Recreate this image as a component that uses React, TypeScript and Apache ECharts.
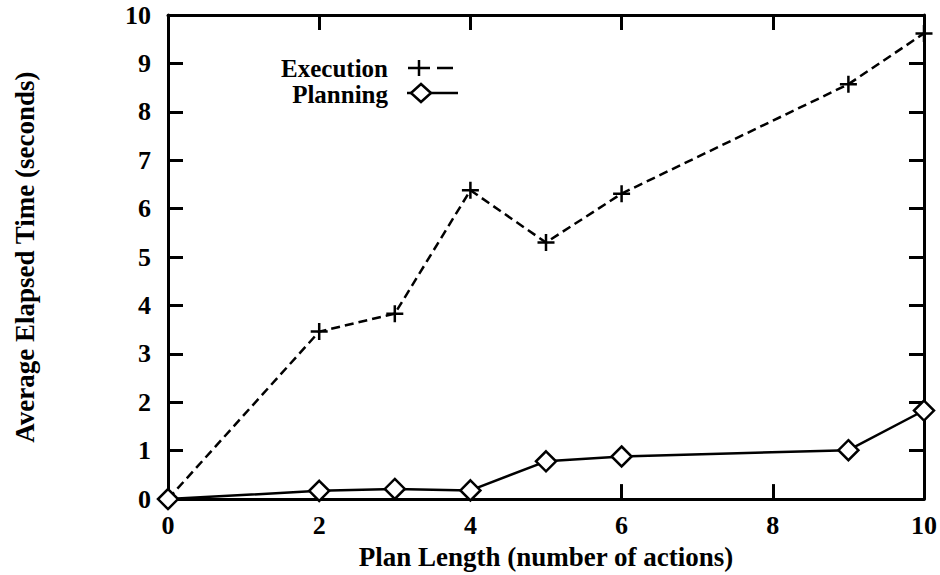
import React, { useEffect, useRef } from "react";
import * as echarts from "echarts";

const planLength = [0, 2, 3, 4, 5, 6, 9, 10];
const execution = [0, 3.46, 3.83, 6.38, 5.3, 6.31, 8.57, 9.62];
const planning = [0, 0.17, 0.21, 0.18, 0.78, 0.88, 1.01, 1.83];
const seriesNames = ["Execution", "Planning"];
const xTitle = "Plan Length (number of actions)";
const yTitle = "Average Elapsed Time (seconds)";

const FONT = "Liberation Serif";

export default function App() {
  const ref = useRef<HTMLDivElement>(null);
  useEffect(() => {
    if (!ref.current) return;
    const chart = echarts.init(ref.current, undefined, { renderer: "svg" });
    const labelStyle = {
      color: "#000",
      fontFamily: FONT,
      fontWeight: "bold" as const,
      fontSize: 26,
    };
    const axisLine = () => ({ show: true, onZero: false, lineStyle: { color: "#000", width: 3 } });
    const axisTick = () => ({ show: true, inside: true, length: 15, lineStyle: { color: "#000", width: 3 } });
    const plusPath = "path://M0,-8L0,8M-8,0L8,0";
    chart.setOption({
      animation: false,
      backgroundColor: "#fff",
      grid: { left: 168, right: 15, top: 15, bottom: 67 },
      xAxis: [
        {
          type: "value",
          min: 0,
          max: 10,
          interval: 2,
          position: "bottom",
          axisLine: axisLine(),
          axisTick: axisTick(),
          splitLine: { show: false },
          axisLabel: { ...labelStyle, margin: 13 },
          name: xTitle,
          nameLocation: "middle",
          nameGap: 28,
          nameTextStyle: { ...labelStyle, fontSize: 27 },
        },
        {
          type: "value",
          min: 0,
          max: 10,
          interval: 2,
          position: "top",
          axisLine: axisLine(),
          axisTick: axisTick(),
          splitLine: { show: false },
          axisLabel: { show: false },
        },
      ],
      yAxis: [
        {
          type: "value",
          min: 0,
          max: 10,
          interval: 1,
          position: "left",
          axisLine: axisLine(),
          axisTick: axisTick(),
          splitLine: { show: false },
          axisLabel: { ...labelStyle, margin: 17 },
          name: yTitle,
          nameLocation: "middle",
          nameGap: 130,
          nameTextStyle: { ...labelStyle, fontSize: 27 },
        },
        {
          type: "value",
          min: 0,
          max: 10,
          interval: 1,
          position: "right",
          axisLine: axisLine(),
          axisTick: axisTick(),
          splitLine: { show: false },
          axisLabel: { show: false },
        },
      ],
      series: [
        {
          name: seriesNames[0],
          type: "line",
          data: planLength.map((x, i) => [x, execution[i]]),
          clip: false,
          symbol: plusPath,
          symbolSize: 17,
          lineStyle: { color: "#000", width: 2.5, type: [9, 5] },
          itemStyle: { color: "transparent", borderColor: "#000", borderWidth: 2.5 },
          z: 5,
        },
        {
          name: seriesNames[1],
          type: "line",
          data: planLength.map((x, i) => [x, planning[i]]),
          clip: false,
          symbol: "diamond",
          symbolSize: [20, 20],
          lineStyle: { color: "#000", width: 2.5 },
          itemStyle: { color: "#fff", borderColor: "#000", borderWidth: 2.5 },
          z: 6,
        },
      ],
      graphic: [
        {
          type: "text",
          x: 388,
          y: 68,
          style: {
            text: seriesNames[0],
            align: "right",
            verticalAlign: "middle",
            fill: "#000",
            font: `bold 25px "${FONT}"`,
          },
        },
        {
          type: "text",
          x: 388,
          y: 94,
          style: {
            text: seriesNames[1],
            align: "right",
            verticalAlign: "middle",
            fill: "#000",
            font: `bold 25px "${FONT}"`,
          },
        },
        {
          type: "line",
          shape: { x1: 408, y1: 68, x2: 453, y2: 68 },
          style: { stroke: "#000", lineWidth: 2.5, lineDash: [22, 7] },
        },
        {
          type: "line",
          shape: { x1: 419, y1: 60, x2: 419, y2: 76 },
          style: { stroke: "#000", lineWidth: 2.5 },
        },
        {
          type: "line",
          shape: { x1: 407, y1: 93, x2: 458, y2: 93 },
          style: { stroke: "#000", lineWidth: 2.5 },
        },
        {
          type: "polygon",
          shape: { points: [[421, 84], [431, 93], [421, 102], [411, 93]] },
          style: { fill: "#fff", stroke: "#000", lineWidth: 2.5 },
        },
      ],
    });
    return () => chart.dispose();
  }, []);
  return (
    <div
      ref={ref}
      style={{ position: "fixed", left: 0, top: 0, width: 940, height: 575, background: "#fff" }}
    />
  );
}
